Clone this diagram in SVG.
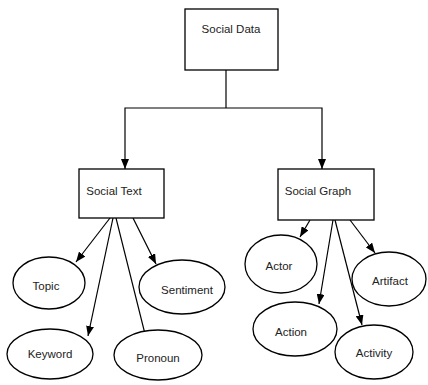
<svg xmlns="http://www.w3.org/2000/svg" width="428" height="385" viewBox="0 0 428 385">
<style>
.box{fill:#fff;stroke:#000;stroke-width:1.3}
.ell{fill:#fff;stroke:#000;stroke-width:1.3}
.ln{fill:none;stroke:#000;stroke-width:1.2}
.arr{fill:none;stroke:#000;stroke-width:1.2;marker-end:url(#ah)}
text{font-family:"Liberation Sans",Arial,sans-serif;font-size:11.5px;fill:#222}
.m{text-anchor:middle}
</style>
<defs>
<marker id="ah" viewBox="0 0 10 8" refX="10" refY="4" markerWidth="10" markerHeight="8" markerUnits="userSpaceOnUse" orient="auto">
<path d="M0,0 L10,4 L0,8 z" fill="#000"/>
</marker>
</defs>
<rect width="428" height="385" fill="#fff"/>
<g id="connectors">
<polyline class="ln" points="226,70 226,108"/>
<polyline class="arr" points="226,108 125,108 125,169"/>
<polyline class="arr" points="226,108 322,108 322,169"/>
<line class="arr" x1="110" y1="218" x2="76" y2="262"/>
<line class="arr" x1="113" y1="218" x2="88" y2="336"/>
<line class="arr" x1="116" y1="218" x2="147" y2="342"/>
<line class="arr" x1="133" y1="218" x2="156" y2="264"/>
<line class="arr" x1="310" y1="220" x2="300" y2="237"/>
<line class="arr" x1="333" y1="220" x2="319" y2="304"/>
<line class="arr" x1="335" y1="220" x2="362" y2="325"/>
<line class="arr" x1="350" y1="220" x2="375" y2="253"/>
</g>
<g id="social-data"><rect class="box" x="185" y="9" width="93" height="61"/><text class="m" x="231" y="33">Social Data</text></g>
<g id="social-text"><rect class="box" x="79" y="169" width="85" height="49"/><text class="m" x="114" y="195">Social Text</text></g>
<g id="social-graph"><rect class="box" x="278" y="169" width="96" height="51"/><text class="m" x="318" y="195">Social Graph</text></g>
<g id="topic"><ellipse class="ell" cx="49" cy="283" rx="36" ry="26"/><text class="m" x="46" y="290">Topic</text></g>
<g id="keyword"><ellipse class="ell" cx="50" cy="354" rx="43" ry="25"/><text class="m" x="50" y="358">Keyword</text></g>
<g id="pronoun"><ellipse class="ell" cx="158" cy="355" rx="44" ry="25"/><text class="m" x="158" y="362">Pronoun</text></g>
<g id="sentiment"><ellipse class="ell" cx="182" cy="287" rx="43" ry="27"/><text class="m" x="187" y="294">Sentiment</text></g>
<g id="actor"><ellipse class="ell" cx="281" cy="264" rx="36" ry="29"/><text class="m" x="279" y="270">Actor</text></g>
<g id="action"><ellipse class="ell" cx="295" cy="329" rx="42" ry="27"/><text class="m" x="291" y="336">Action</text></g>
<g id="artifact"><ellipse class="ell" cx="389" cy="279" rx="37" ry="27"/><text class="m" x="390" y="285">Artifact</text></g>
<g id="activity"><ellipse class="ell" cx="374" cy="352" rx="39" ry="27"/><text class="m" x="374" y="357">Activity</text></g>
</svg>
